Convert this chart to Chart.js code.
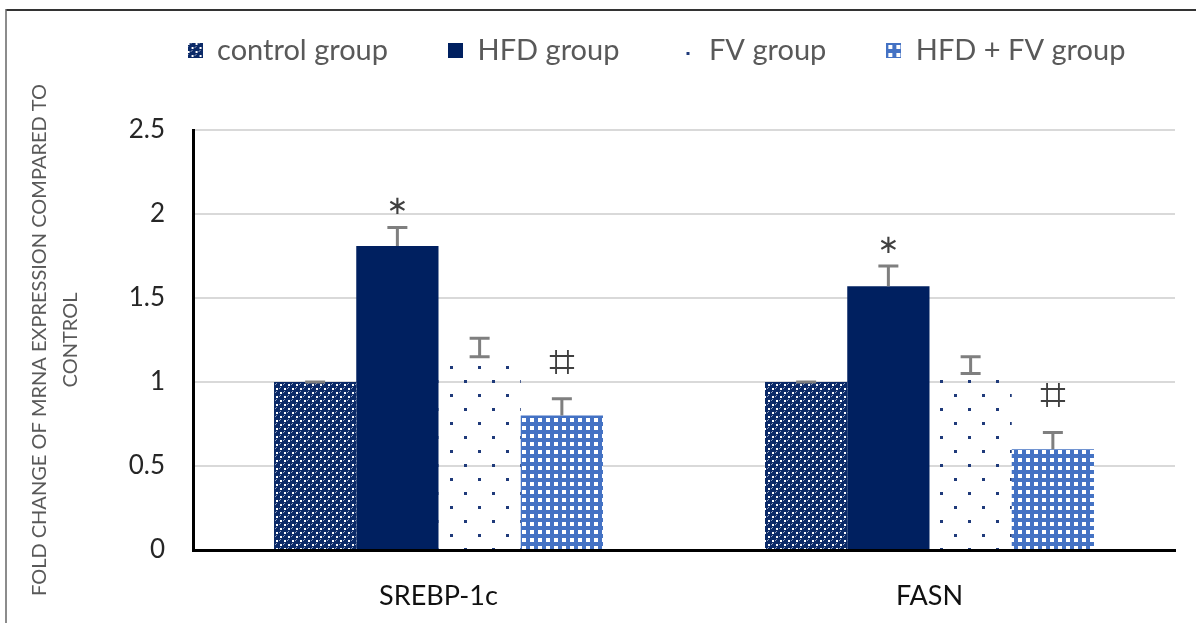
<!DOCTYPE html>
<html>
<head>
<meta charset="utf-8">
<script src="https://cdn.jsdelivr.net/npm/chart.js@4.4.1/dist/chart.umd.min.js"></script>
<style>
  html, body { margin: 0; padding: 0; background: #fff; }
  #wrap { width: 1196px; height: 623px; position: relative; }
</style>
</head>
<body>
<div id="wrap"><canvas id="cv" width="1196" height="623"></canvas></div>
<script>
const categories = ['SREBP-1c', 'FASN'];
const seriesLabels = ['control group', 'HFD group', 'FV group', 'HFD + FV group'];
const controlValues = [1.0, 1.0];
const hfdValues = [1.81, 1.57];
const fvValues = [1.15, 1.05];
const hfdFvValues = [0.8, 0.6];
const controlErrors = [0, 0];
const hfdErrors = [0.11, 0.12];
const fvErrors = [0.11, 0.1];
const hfdFvErrors = [0.1, 0.1];
const hfdMarks = ['\u2217', '\u2217'];
const hfdFvMarks = ['\u2317', '\u2317'];
const yTickLabels = { 0: '0', 0.5: '0.5', 1: '1', 1.5: '1.5', 2: '2', 2.5: '2.5' };
const yTitle = ['FOLD CHANGE OF MRNA EXPRESSION COMPARED TO', 'CONTROL'];

const NAVY = '#002060';
const BLUE = '#4472c4';
const FONT = 'Lato, "Open Sans", sans-serif';

// small tiles for the Excel-like fill patterns
function tile(w, h, paint) {
  const c = document.createElement('canvas');
  c.width = w; c.height = h;
  paint(c.getContext('2d'), w, h);
  return c;
}
const ctxMain = document.getElementById('cv').getContext('2d');

const controlTile = tile(8, 8, (g) => {
  g.fillStyle = '#0b2a68'; g.fillRect(0, 0, 8, 8);
  g.fillStyle = '#fff';
  g.fillRect(0, 0, 2, 2); g.fillRect(4, 4, 2, 2);
  g.fillStyle = '#8d9bbb';
  g.fillRect(3, 0, 1, 1); g.fillRect(0, 3, 1, 1); g.fillRect(7, 4, 1, 1); g.fillRect(4, 7, 1, 1);
});
const fvTile = tile(28, 28, (g) => {
  g.fillStyle = '#1f3a7a';
  g.fillRect(2, 2, 3, 3); g.fillRect(16, 16, 3, 3);
});
const hfdFvTile = tile(8, 8, (g) => {
  g.fillStyle = BLUE; g.fillRect(0, 0, 8, 8);
  g.fillStyle = '#fff'; g.fillRect(2, 2, 4, 4);
});
const controlFill = ctxMain.createPattern(controlTile, 'repeat');
const fvFill = ctxMain.createPattern(fvTile, 'repeat');
const hfdFvFill = ctxMain.createPattern(hfdFvTile, 'repeat');

// legend markers
const marker = (paint) => tile(15, 15, paint);
const legendMarkers = [
  marker((g) => { g.fillStyle = g.createPattern(controlTile, 'repeat'); g.fillRect(0, 0, 15, 15); }),
  marker((g) => { g.fillStyle = NAVY; g.fillRect(0, 0, 15, 15); }),
  marker((g) => { g.fillStyle = '#1f3a7a'; g.fillRect(7, 9, 3, 3); }),
  marker((g) => { g.fillStyle = g.createPattern(hfdFvTile, 'repeat'); g.fillRect(0, 0, 15, 15); })
];

const frame = {
  id: 'frame',
  beforeDraw(chart) {
    const c = chart.ctx;
    c.save();
    c.fillStyle = '#fff';
    c.fillRect(0, 0, chart.width, chart.height);
    c.strokeStyle = '#333'; c.lineWidth = 2;
    c.beginPath(); c.moveTo(6, 10); c.lineTo(chart.width, 10); c.stroke();
    c.strokeStyle = '#666'; c.lineWidth = 1.5;
    c.beginPath(); c.moveTo(6, 9); c.lineTo(6, chart.height); c.stroke();
    c.restore();
  }
};

const legendTweak = {
  id: 'legendTweak',
  beforeInit(chart) {
    const fit = chart.legend.fit;
    chart.legend.fit = function () { fit.call(this); this.height = 130; };
  },
  afterLayout(chart) {
    const l = chart.legend;
    l.left += 69; l.right += 69;
    l.top -= 24; l.bottom -= 24;
  }
};

const errorBars = {
  id: 'errorBars',
  afterDatasetsDraw(chart) {
    const c = chart.ctx, y = chart.scales.y;
    chart.data.datasets.forEach((ds, i) => {
      const meta = chart.getDatasetMeta(i);
      meta.data.forEach((bar, j) => {
        const v = ds.data[j];
        const yBar = y.getPixelForValue(v);
        const yTop = y.getPixelForValue(v + ds.errors[j]);
        c.save();
        c.strokeStyle = '#7f7f7f'; c.lineWidth = 3;
        c.beginPath();
        c.moveTo(bar.x, yBar); c.lineTo(bar.x, yTop);
        c.moveTo(bar.x - 10, yTop); c.lineTo(bar.x + 10, yTop);
        if (ds.capBottom) { c.moveTo(bar.x - 10, yBar); c.lineTo(bar.x + 10, yBar); }
        c.stroke();
        if (ds.marks) {
          c.fillStyle = '#404040';
          c.font = ds.markFont;
          c.textAlign = 'center'; c.textBaseline = 'middle';
          c.fillText(ds.marks[j], bar.x, yTop - ds.markGap);
        }
        c.restore();
      });
    });
  }
};

new Chart(ctxMain, {
  type: 'bar',
  data: {
    labels: categories,
    datasets: [
      { label: seriesLabels[0], data: controlValues, errors: controlErrors, backgroundColor: controlFill },
      { label: seriesLabels[1], data: hfdValues, errors: hfdErrors, backgroundColor: NAVY,
        marks: hfdMarks, markGap: 20, markFont: '26px "DejaVu Sans"' },
      { label: seriesLabels[2], data: fvValues, errors: fvErrors, backgroundColor: fvFill, capBottom: true },
      { label: seriesLabels[3], data: hfdFvValues, errors: hfdFvErrors, backgroundColor: hfdFvFill,
        marks: hfdFvMarks, markGap: 34, markFont: '46px "DejaVu Sans"' }
    ]
  },
  options: {
    responsive: false,
    animation: false,
    layout: { padding: { left: 0, right: 21, top: 0, bottom: 0 } },
    datasets: { bar: { categoryPercentage: 0.67, barPercentage: 1.0, borderWidth: 0 } },
    plugins: {
      tooltip: { enabled: false },
      legend: {
        position: 'top',
        labels: {
          usePointStyle: true,
          boxWidth: 15, boxHeight: 15,
          padding: 60,
          color: '#595959',
          font: { family: FONT, size: 29 },
          generateLabels(chart) {
            return chart.data.datasets.map((ds, i) => ({
              text: ds.label, pointStyle: legendMarkers[i], fontColor: '#595959',
              lineWidth: 0, strokeStyle: 'transparent', datasetIndex: i, hidden: false
            }));
          }
        }
      }
    },
    scales: {
      x: {
        grid: { display: false },
        border: { display: true, color: '#000', width: 3 },
        ticks: { color: '#111', font: { family: FONT, size: 27 }, padding: 22 },
        afterFit(scale) { scale.height = 73; }
      },
      y: {
        min: 0, max: 2.5,
        ticks: {
          stepSize: 0.5, color: '#262626', font: { family: FONT, size: 26 }, padding: 28,
          callback: (v) => yTickLabels[v]
        },
        grid: { color: '#d9d9d9', lineWidth: 2, drawTicks: false },
        border: { display: true, color: '#000', width: 3 },
        title: {
          display: true, text: yTitle, color: '#595959',
          font: { family: FONT, size: 20, lineHeight: 1.55 },
          padding: { top: 24, bottom: 0 }
        },
        afterFit(scale) { scale.width = 193; }
      }
    }
  },
  plugins: [frame, legendTweak, errorBars]
});
</script>
</body>
</html>
